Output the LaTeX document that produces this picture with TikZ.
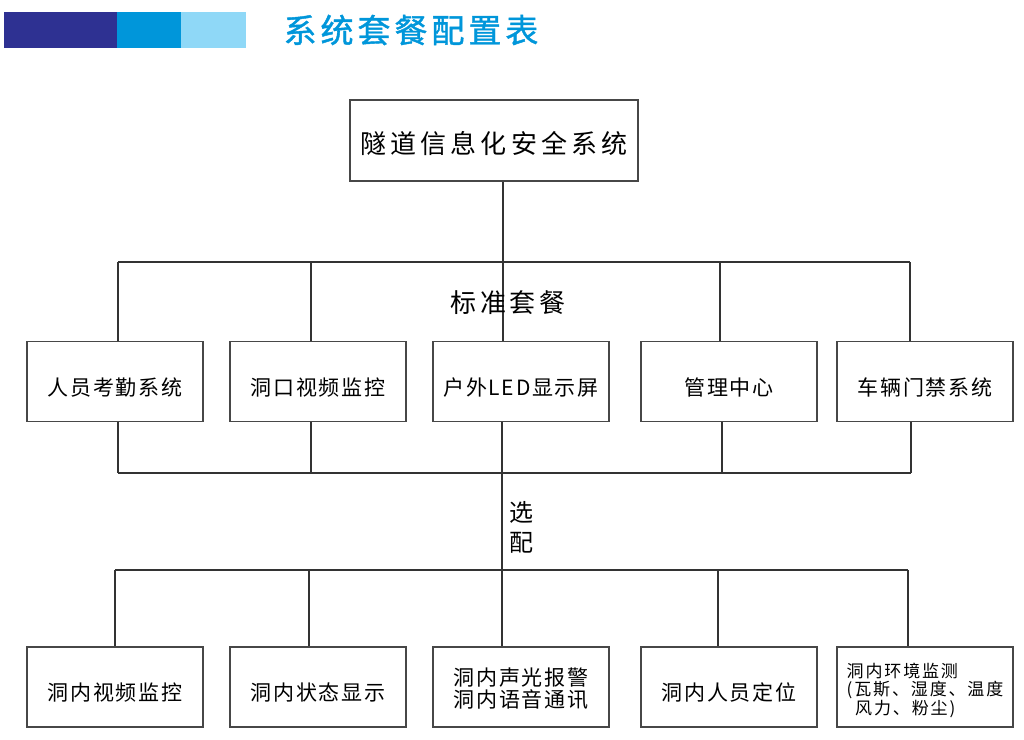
\documentclass[tikz,border=0pt]{standalone}
\usepackage{fontspec}
\setmainfont{Noto Sans CJK SC}
\usepackage{xcolor}
\usepackage{tikz}
\usetikzlibrary{positioning}
\definecolor{navyband}{RGB}{46,49,146}
\definecolor{midband}{RGB}{0,150,218}
\definecolor{paleband}{RGB}{143,216,247}
\newcommand{\ls}[1]{\addfontfeatures{LetterSpace=#1}}

\begin{document}
\begin{tikzpicture}[x=1pt, y=-1pt,
  box/.style={draw=black!72, line width=1.3pt, minimum width=176pt, minimum height=80pt, inner sep=2pt,
    text height=27pt, text depth=0pt, font=\fontsize{21}{22}\selectfont\ls{8}},
  wire/.style={draw=black!80, line width=1.4pt}]
\useasboundingbox (0,0) rectangle (1024,739);
% header bands and title
\fill[navyband] (4,12) rectangle (117,48);
\fill[midband] (117,12) rectangle (181,48);
\fill[paleband] (181,12) rectangle (246,48);
\node[text=midband, font=\fontsize{33}{33}\selectfont\addfontfeatures{FakeBold=1.2}\ls{12}] (title) at (411,30) {系统套餐配置表};
% root
\node[box, minimum width=288pt, minimum height=81pt, text height=25pt,
  font=\fontsize{26}{26}\selectfont\ls{16}] (top) at (494,140.5) {隧道信息化安全系统};
% standard row
\node[box] (b1) at (115,381.5) {人员考勤系统};
\node[box] (b2) at (318,381.5) {洞口视频监控};
\node[box] (b3) at (521,381.5) {户外LED显示屏};
\node[box] (b4) at (729,381.5) {管理中心};
\node[box] (b5) at (925,381.5) {车辆门禁系统};
% optional row
\node[box] (d1) at (115,687) {洞内视频监控};
\node[box] (d2) at (318,687) {洞内状态显示};
\node[box, align=center, text height=42.5pt, text depth=2.5pt,
  font=\fontsize{21}{21.5}\selectfont\ls{8}] (d3) at (521,687) {洞内声光报警\\洞内语音通讯};
\node[box] (d4) at (729,687) {洞内人员定位};
\node[box, align=left, text height=56pt, text depth=2pt,
  font=\fontsize{17}{17.5}\selectfont\ls{11}] (d5) at (925,687) {洞内环境监测\\(瓦斯、湿度、温度\\\hspace{0.5em}风力、粉尘)};
% bus points
\coordinate (a1) at (118,262); \coordinate (a2) at (311,262); \coordinate (a3) at (503,262);
\coordinate (a4) at (720,262); \coordinate (a5) at (910,262);
\coordinate (c1) at (118,473); \coordinate (c2) at (311,473); \coordinate (c3) at (502,473);
\coordinate (c4) at (722,473); \coordinate (c5) at (911,473);
\coordinate (e1) at (115,570); \coordinate (e2) at (309,570); \coordinate (e3) at (502,570);
\coordinate (e4) at (718,570); \coordinate (e5) at (908,570);
% connectors
\draw[wire] (top.south -| a3) -- (b3.north -| a3);
\draw[wire] (a1) -- (a5);
\foreach \i in {1,2,4,5} \draw[wire] (a\i) -- (a\i |- b\i.north);
\foreach \i in {1,...,5} \draw[wire] (b\i.south -| c\i) -- (c\i);
\draw[wire] (c1) -- (c5);
\draw[wire] (c3) -- (e3);
\draw[wire] (e1) -- (e5);
\foreach \i in {1,...,5} \draw[wire] (e\i) -- (e\i |- d\i.north);
% labels
\node[font=\fontsize{26}{26}\selectfont\ls{15}] (std) at (508,303) {标准套餐};
\node[align=center, font=\fontsize{24}{30}\selectfont] (opt) at (521,527) {选\\配};
\end{tikzpicture}
\end{document}
